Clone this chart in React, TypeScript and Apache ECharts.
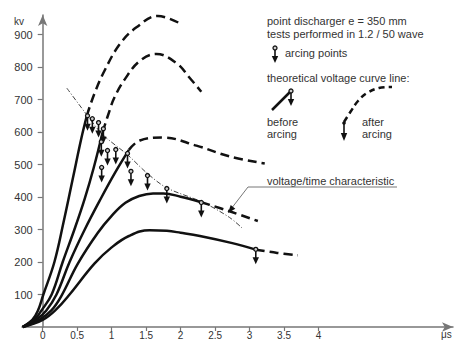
import React, { useEffect, useRef } from "react";
import * as echarts from "echarts";

// time in µs, voltage in kV
const solid1 = [[-0.29, 0], [-0.15, 22], [-0.07, 50], [0.01, 100], [0.17, 200], [0.3, 320], [0.44, 460], [0.56, 580], [0.64, 650]];
const dashed1 = [[0.64, 650], [0.75, 718], [0.9, 790], [1.12, 871], [1.36, 922], [1.67, 957], [2.01, 932]];
const solid2 = [[-0.29, 0], [-0.1, 28], [-0.02, 50], [0.13, 100], [0.29, 200], [0.46, 300], [0.61, 395], [0.74, 490], [0.87, 600]];
const dashed2 = [[0.87, 600], [0.97, 666], [1.04, 706], [1.19, 762], [1.41, 819], [1.65, 840], [1.94, 812], [2.13, 767], [2.3, 724]];
const solid3 = [[-0.29, 0], [-0.08, 25], [0.05, 50], [0.2, 100], [0.39, 200], [0.61, 300], [0.855, 400], [1.05, 475], [1.25, 545]];
const dashed3 = [[1.25, 545], [1.41, 574], [1.74, 583], [2.23, 558], [2.71, 525], [3.22, 503]];
const solid4 = [[-0.29, 0], [-0.05, 22], [0.13, 52], [0.27, 95], [0.51, 195], [0.8, 290], [1.0, 342], [1.2, 382], [1.4, 403], [1.6, 411], [1.75, 411], [2.0, 401], [2.3, 384]];
const dashed4 = [[2.3, 384], [2.71, 356], [3.12, 326]];
const solid5 = [[-0.29, 0], [0.0, 22], [0.2, 55], [0.39, 100], [0.75, 195], [1.0, 245], [1.25, 280], [1.55, 298], [1.8, 296], [2.0, 290], [2.28, 280], [2.75, 258], [3.09, 238]];
const dashed5 = [[3.09, 238], [3.4, 228], [3.7, 221]];
const characteristic = [[0.35, 735], [0.65, 650], [0.87, 592], [1.23, 530], [1.52, 472], [1.8, 428], [2.32, 384], [2.71, 337], [2.91, 301]];
const arcing = [[0.65, 650], [0.72, 641], [0.81, 629], [0.88, 610], [0.85, 570], [0.855, 491], [0.94, 543], [1.06, 546], [1.23, 534], [1.28, 479], [1.52, 466], [1.8, 426], [2.3, 383], [3.09, 239]];

const xTicks = [0, 0.5, 1, 1.5, 2, 2.5, 3, 3.5, 4];
const yTicks = [100, 200, 300, 400, 500, 600, 700, 800, 900];

const FONT = "Liberation Sans, Arial, sans-serif";
const INK = "#111";
const AXIS = "#777";

function markerGroup(x: number, y: number) {
  return [
    { type: "line", shape: { x1: x, y1: y + 2, x2: x, y2: y + 10 }, style: { stroke: INK, lineWidth: 1.6 } },
    { type: "polygon", shape: { points: [[x - 3.2, y + 8], [x + 3.2, y + 8], [x, y + 15]] }, style: { fill: INK } },
    { type: "circle", shape: { cx: x, cy: y, r: 2 }, style: { fill: "#ccc", stroke: INK, lineWidth: 1.3 } },
  ];
}

function txt(text: string, x: number, y: number, size = 11) {
  return {
    type: "text",
    x,
    y,
    style: { text, fill: "#333", fontSize: size, fontFamily: FONT, textVerticalAlign: "middle" },
  };
}

export default function App() {
  const ref = useRef<HTMLDivElement>(null);
  useEffect(() => {
    const chart = echarts.init(ref.current!, undefined, { renderer: "svg" });
    const solid = (data: number[][]) => ({
      type: "line", data, smooth: 0.4, symbol: "none", clip: false, z: 3,
      lineStyle: { color: INK, width: 2.5, type: "solid" },
    });
    const dashed = (data: number[][]) => ({
      type: "line", data, smooth: 0.4, symbol: "none", clip: false, z: 3,
      lineStyle: { color: INK, width: 2.5, type: [9, 5] },
    });
    chart.setOption({
      animation: false,
      grid: { left: 22, right: 2, top: 15, bottom: 14, containLabel: false, outerBoundsMode: "none" },
      xAxis: {
        type: "value", min: -0.3, max: 5.95,
        splitLine: { show: false },
        axisLine: { onZero: false, symbol: ["none", "arrow"], symbolSize: [7, 11], lineStyle: { color: AXIS, width: 1.5 } },
        axisTick: { customValues: xTicks, length: 4, lineStyle: { color: AXIS, width: 1.2 } },
        axisLabel: { customValues: xTicks, margin: 3, color: "#333", fontSize: 10, fontFamily: FONT },
      },
      yAxis: {
        type: "value", min: 0, max: 960,
        offset: -20.7,
        splitLine: { show: false },
        axisLine: { onZero: false, symbol: ["none", "arrow"], symbolSize: [7, 11], lineStyle: { color: AXIS, width: 1.5 } },
        axisTick: { customValues: yTicks, length: 5, lineStyle: { color: AXIS, width: 1.2 } },
        axisLabel: { customValues: yTicks, margin: 10, color: "#333", fontSize: 11, fontFamily: FONT },
      },
      series: [
        solid(solid1), dashed(dashed1),
        solid(solid2), dashed(dashed2),
        solid(solid3), dashed(dashed3),
        solid(solid4), dashed(dashed4),
        solid(solid5), dashed(dashed5),
        {
          type: "line", data: characteristic, smooth: 0.3, symbol: "none", clip: false, z: 2,
          lineStyle: { color: "#444", width: 1, type: [5, 2, 1, 2] },
        },
        {
          type: "custom", data: arcing, clip: false, z: 5,
          renderItem: (_params: any, api: any) => {
            const p = api.coord([api.value(0), api.value(1)]);
            return { type: "group", children: markerGroup(p[0], p[1]) };
          },
        },
      ],
      graphic: [
        txt("kv", 14, 21, 10),
        { type: "text", x: 441, y: 329, style: { text: "μs", fill: "#333", fontSize: 10, fontFamily: FONT, textVerticalAlign: "top" } },
        txt("point discharger e = 350 mm", 267, 21),
        txt("tests performed in 1.2 / 50 wave", 267, 34),
        ...markerGroup(275, 48),
        txt("arcing points", 285, 53),
        txt("theoretical voltage curve line:", 267, 78),
        { type: "polyline", shape: { points: [[272, 110], [290, 92]] }, style: { stroke: INK, lineWidth: 2.5, fill: "none" } },
        ...markerGroup(291, 91),
        txt("before", 267, 122),
        txt("arcing", 267, 134),
        {
          type: "polyline",
          shape: { points: [[344, 122], [351, 111], [358, 101], [367, 93], [379, 88], [392, 87]], smooth: 0.4 },
          style: { stroke: INK, lineWidth: 2.5, fill: "none", lineDash: [6, 4] },
        },
        { type: "line", shape: { x1: 344, y1: 124, x2: 344, y2: 134 }, style: { stroke: INK, lineWidth: 1.6 } },
        { type: "polygon", shape: { points: [[340.8, 133], [347.2, 133], [344, 141]] }, style: { fill: INK } },
        { type: "circle", shape: { cx: 344, cy: 123, r: 1.8 }, style: { fill: INK } },
        txt("after", 362, 122),
        txt("arcing", 362, 134),
        txt("voltage/time characteristic", 267, 181),
        { type: "polyline", shape: { points: [[397, 187], [248, 187], [231, 209]] }, style: { stroke: AXIS, lineWidth: 1, fill: "none" } },
        { type: "polygon", shape: { points: [[228, 213], [235.3, 208.7], [230.7, 204.9]] }, style: { fill: INK } },
      ],
    });
    return () => chart.dispose();
  }, []);
  return <div ref={ref} style={{ position: "absolute", left: 0, top: 0, width: 455, height: 341 }} />;
}
